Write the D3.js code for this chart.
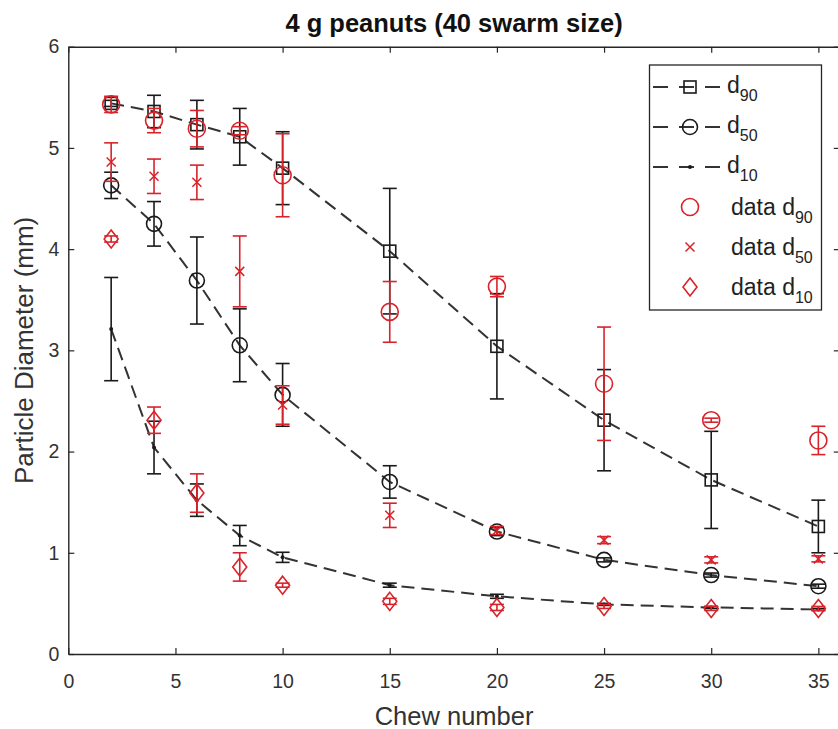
<!DOCTYPE html>
<html>
<head>
<meta charset="utf-8">
<script src="https://cdn.jsdelivr.net/npm/d3@7"></script>
<style>
  body { margin: 0; background: #fff; }
  svg { display: block; font-family: "Liberation Sans", Arial, sans-serif; }
</style>
</head>
<body>
<div id="chart"></div>
<script>

// chew counts on the x axis
var chews = [2, 4, 6, 8, 10, 15, 20, 25, 30, 35];

// model (swarm) results, black
var modelD90 = [5.44, 5.36, 5.23, 5.11, 4.80, 3.98, 3.04, 2.31, 1.72, 1.26];
var modelD90Err = [0.03, 0.16, 0.24, 0.28, 0.36, 0.62, 0.52, 0.50, 0.48, 0.26];
var modelD50 = [4.63, 4.25, 3.69, 3.05, 2.56, 1.70, 1.21, 0.93, 0.78, 0.67];
var modelD50Err = [0.13, 0.22, 0.43, 0.36, 0.31, 0.16, 0.04, 0.02, 0.02, 0.02];
var modelD10 = [3.21, 2.04, 1.52, 1.17, 0.955, 0.68, 0.57, 0.49, 0.46, 0.44];
var modelD10Err = [0.51, 0.26, 0.16, 0.10, 0.05, 0.02, 0.02, 0.01, 0.01, 0.01];

// measured data, red
var dataD90 = [5.43, 5.27, 5.19, 5.17, 4.73, 3.38, 3.63, 2.67, 2.31, 2.11];
var dataD90Err = [0.08, 0.12, 0.18, 0.04, 0.41, 0.30, 0.10, 0.56, 0.02, 0.14];
var dataD50 = [4.86, 4.72, 4.66, 3.78, 2.46, 1.37, 1.22, 1.125, 0.93, 0.94];
var dataD50Err = [0.19, 0.17, 0.17, 0.35, 0.19, 0.12, 0.04, 0.035, 0.03, 0.03];
var dataD10 = [4.10, 2.31, 1.59, 0.86, 0.68, 0.52, 0.46, 0.47, 0.45, 0.45];
var dataD10Err = [0.03, 0.13, 0.19, 0.14, 0.02, 0.03, 0.03, 0.02, 0.02, 0.02];

var xTicks = [0, 5, 10, 15, 20, 25, 30, 35];
var yTicks = [0, 1, 2, 3, 4, 5, 6];

var title = "4 g peanuts (40 swarm size)";
var xLabel = "Chew number";
var yLabel = "Particle Diameter (mm)";

var black = "#1a1a1a";
var red = "#d8232a";
var axisColor = "#262626";

var series = [
    {label: "d", sub: "90", values: modelD90, errors: modelD90Err, color: black, marker: "square", line: true},
    {label: "d", sub: "50", values: modelD50, errors: modelD50Err, color: black, marker: "circle", line: true},
    {label: "d", sub: "10", values: modelD10, errors: modelD10Err, color: black, marker: "dot", line: true},
    {label: "data d", sub: "90", values: dataD90, errors: dataD90Err, color: red, marker: "bigcircle", line: false},
    {label: "data d", sub: "50", values: dataD50, errors: dataD50Err, color: red, marker: "cross", line: false},
    {label: "data d", sub: "10", values: dataD10, errors: dataD10Err, color: red, marker: "diamond", line: false}
];

var width = 838;
var height = 729;

var margin = ({
    top: 46.7,
    right: -1.8,
    bottom: 75,
    left: 68.3
})

var svg = d3.select("#chart")
    .append("svg")
    .attr("width", width)
    .attr("height", height)

var x = d3.scaleLinear()
    .domain([0, 36])
    .range([margin.left, width - margin.right]);

var y = d3.scaleLinear()
    .domain([0, 6])
    .range([height - margin.bottom, margin.top]);

// axes, MATLAB style: inward ticks on all four sides
var xAxis = g => g
    .attr("transform", `translate(0, ${y(0)})`)
    .call(d3.axisBottom(x).tickValues(xTicks).tickSizeInner(-6).tickSizeOuter(0).tickFormat(d3.format("d")))
    .call(g => g.selectAll("text").attr("y", 20).attr("font-size", 19.5))

var xAxisTop = g => g
    .attr("transform", `translate(0, ${y(6)})`)
    .call(d3.axisTop(x).tickValues(xTicks).tickSizeInner(-6).tickSizeOuter(0).tickFormat(""))

var yAxis = g => g
    .attr("transform", `translate(${x(0)}, 0)`)
    .call(d3.axisLeft(y).tickValues(yTicks).tickSizeInner(-6).tickSizeOuter(0).tickFormat(d3.format("d")))
    .call(g => g.selectAll("text").attr("x", -9).attr("font-size", 19.5))

var yAxisRight = g => g
    .attr("transform", `translate(${x(36)}, 0)`)
    .call(d3.axisRight(y).tickValues(yTicks).tickSizeInner(-6).tickSizeOuter(0).tickFormat(""))

;[xAxis, xAxisTop, yAxis, yAxisRight].forEach(function(a) {
    svg.append("g")
        .call(a)
        .call(g => g.select(".domain").attr("stroke", axisColor).attr("stroke-width", 1.4))
        .call(g => g.selectAll(".tick line").attr("stroke", axisColor).attr("stroke-width", 1.2))
        .call(g => g.selectAll("text").attr("fill", "#333").attr("font-family", "Liberation Sans, Arial, sans-serif"))
})

svg.append("text")
    .attr("x", (x(0) + x(36)) / 2)
    .attr("y", 32)
    .attr("text-anchor", "middle")
    .attr("font-weight", "bold")
    .attr("font-size", 25.5)
    .attr("fill", "#111")
    .text(title)

svg.append("text")
    .attr("x", (x(0) + x(36)) / 2)
    .attr("y", 725)
    .attr("text-anchor", "middle")
    .attr("font-size", 25.5)
    .attr("fill", "#333")
    .text(xLabel)

svg.append("text")
    .attr("transform", `translate(33, ${(y(0) + y(6)) / 2}) rotate(-90)`)
    .attr("text-anchor", "middle")
    .attr("font-size", 26)
    .attr("fill", "#333")
    .text(yLabel)

// marker shapes around (0,0)
function drawMarker(g, type, color) {
    if (type == "square") {
        g.append("rect").attr("x", -6).attr("y", -6).attr("width", 12).attr("height", 12)
            .attr("fill", "none").attr("stroke", color).attr("stroke-width", 1.6)
    } else if (type == "circle") {
        g.append("circle").attr("r", 7.5)
            .attr("fill", "none").attr("stroke", color).attr("stroke-width", 1.6)
    } else if (type == "bigcircle") {
        g.append("circle").attr("r", 8.5)
            .attr("fill", "none").attr("stroke", color).attr("stroke-width", 1.6)
    } else if (type == "dot") {
        g.append("circle").attr("r", 2)
            .attr("fill", color)
    } else if (type == "cross") {
        g.append("path").attr("d", "M-4.5,-4.5L4.5,4.5M-4.5,4.5L4.5,-4.5")
            .attr("fill", "none").attr("stroke", color).attr("stroke-width", 1.5)
    } else if (type == "diamond") {
        g.append("path").attr("d", "M0,-9L7,0L0,9L-7,0Z")
            .attr("fill", "none").attr("stroke", color).attr("stroke-width", 1.6)
    }
}

var line = d3.line()
    .x(d => x(d[0]))
    .y(d => y(d[1]))

series.forEach(function(s) {
    var pts = chews.map((c, i) => [c, s.values[i], s.errors[i]]);
    var g = svg.append("g");

    if (s.line) {
        g.append("path")
            .datum(pts)
            .attr("d", line)
            .attr("fill", "none")
            .attr("stroke", "#333")
            .attr("stroke-width", 2)
            .attr("stroke-dasharray", "13,7")
    }

    var bars = g.selectAll(".bar")
        .data(pts)
        .enter().append("g")
        .attr("stroke", s.color)
        .attr("stroke-width", 1.6)

    bars.append("line")
        .attr("x1", d => x(d[0])).attr("x2", d => x(d[0]))
        .attr("y1", d => y(d[1] - d[2])).attr("y2", d => y(d[1] + d[2]))
    bars.append("line")
        .attr("x1", d => x(d[0]) - 7).attr("x2", d => x(d[0]) + 7)
        .attr("y1", d => y(d[1] + d[2])).attr("y2", d => y(d[1] + d[2]))
    bars.append("line")
        .attr("x1", d => x(d[0]) - 7).attr("x2", d => x(d[0]) + 7)
        .attr("y1", d => y(d[1] - d[2])).attr("y2", d => y(d[1] - d[2]))

    g.selectAll(".mark")
        .data(pts)
        .enter().append("g")
        .attr("transform", d => `translate(${x(d[0])}, ${y(d[1])})`)
        .each(function() { drawMarker(d3.select(this), s.marker, s.color) })
})

// legend
var legend = svg.append("g")

legend.append("rect")
    .attr("x", 649.5)
    .attr("y", 65)
    .attr("width", 172)
    .attr("height", 245)
    .attr("fill", "#fff")
    .attr("stroke", axisColor)
    .attr("stroke-width", 1.3)

series.forEach(function(s, i) {
    var row = 87 + i * 40;
    var item = legend.append("g").attr("transform", `translate(0, ${row})`);
    if (s.line) {
        item.append("line")
            .attr("x1", 653).attr("x2", 725)
            .attr("stroke", "#333").attr("stroke-width", 2)
            .attr("stroke-dasharray", "15,11")
    }
    drawMarker(item.append("g").attr("transform", "translate(690, 0)"), s.marker, s.color)
    var t = item.append("text")
        .attr("x", s.line ? 727 : 731)
        .attr("y", s.line ? 6 : 8)
        .attr("font-size", 23)
        .attr("fill", "#222")
    t.append("tspan").text(s.label)
    t.append("tspan").attr("dy", 8).attr("font-size", 16).text(s.sub)
})

</script>
</body>
</html>
